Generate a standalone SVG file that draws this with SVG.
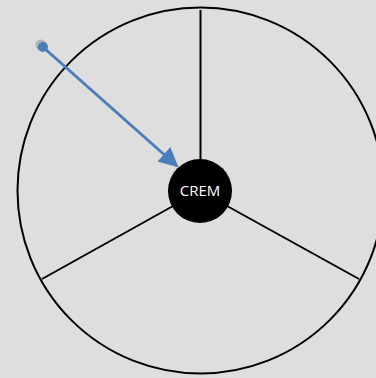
<svg xmlns="http://www.w3.org/2000/svg" width="376" height="378" viewBox="0 0 376 378">
<style>
.ln{stroke:#000;stroke-width:2;fill:none}
.lbl{font-family:"Open Sans","Liberation Sans",sans-serif;font-size:15px;fill:#fff;text-anchor:middle}
</style>
<defs>
<marker id="ah" viewBox="0 0 10 10" refX="9" refY="5" markerWidth="6.5" markerHeight="6.5" orient="auto" markerUnits="strokeWidth">
<path d="M0,0 L10,5 L0,10 z" fill="#4a7ebb"/>
</marker>
</defs>
<rect width="376" height="378" fill="#dedede"/>
<g id="wheel">
<circle class="ln" cx="200.5" cy="190.5" r="183"/>
</g>
<g id="connectors">
<line class="ln" x1="200.5" y1="191" x2="200.5" y2="10"/>
<line class="ln" x1="200" y1="191" x2="42" y2="279"/>
<line class="ln" x1="200" y1="191" x2="359" y2="279"/>
<line x1="44" y1="48" x2="177" y2="166" stroke="#4a7ebb" stroke-width="3" marker-end="url(#ah)"/>
</g>
<g id="start">
<circle cx="41" cy="45" r="5.5" fill="#a0a0a0" opacity="0.7"/>
<circle cx="43" cy="47" r="5" fill="#4a7ebb"/>
</g>
<g id="crem">
<circle cx="200" cy="191" r="32" fill="#000"/>
<text class="lbl" x="200" y="196">CREM</text>
</g>
</svg>
